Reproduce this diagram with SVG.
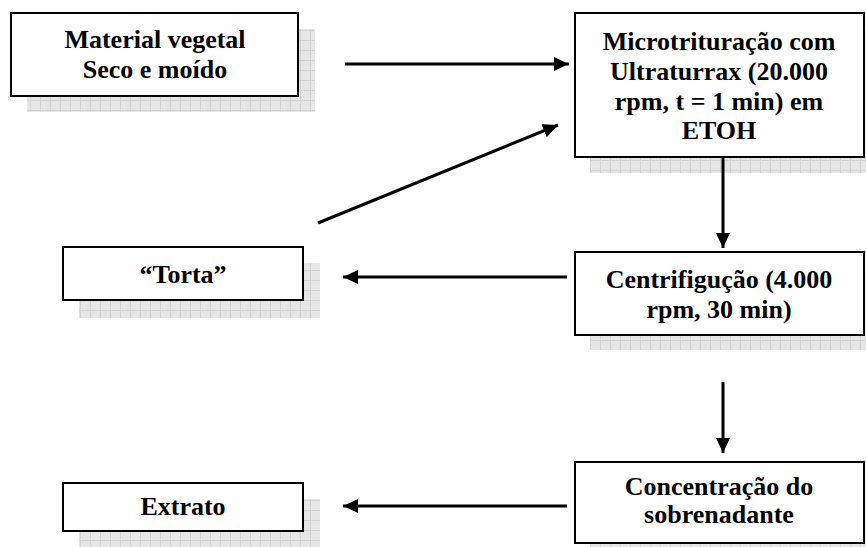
<svg xmlns="http://www.w3.org/2000/svg" width="866" height="547" viewBox="0 0 866 547">
  <style>
    .box { fill: #ffffff; stroke: #000000; stroke-width: 2; }
    .shadow { fill: url(#grid); }
    .label { font-weight: bold; font-size: 26px; fill: #000000; text-anchor: middle; }
    .flow { stroke: #000000; stroke-width: 3; fill: none; marker-end: url(#head); }
  </style>
  <defs>
    <pattern id="grid" patternUnits="userSpaceOnUse" width="10" height="10">
      <rect width="10" height="10" fill="#e6e6e6"/>
      <path d="M0,0.5 H10 M0.5,0 V10" stroke="#d2d2d2" stroke-width="1"/>
    </pattern>
    <marker id="head" markerUnits="userSpaceOnUse" markerWidth="16" markerHeight="14" refX="15" refY="7" orient="auto">
      <path d="M0,0 L15,7 L0,14 Z" fill="#000000"/>
    </marker>
  </defs>

  <g id="material" font-family="'Liberation Serif', 'Times New Roman', Times, serif">
    <rect class="shadow" x="27" y="29" width="288" height="83"/>
    <rect class="box" x="11" y="13" width="287" height="83"/>
    <text class="label" x="155" y="48">Material vegetal</text>
    <text class="label" x="155" y="78">Seco e moído</text>
  </g>

  <g id="microtrituracao" font-family="'Liberation Serif', 'Times New Roman', Times, serif">
    <rect class="shadow" x="590" y="29" width="276" height="144"/>
    <rect class="box" x="575" y="13" width="289" height="144"/>
    <text class="label" x="719" y="50">Microtrituração com</text>
    <text class="label" x="719" y="80">Ultraturrax (20.000</text>
    <text class="label" x="719" y="110">rpm, t = 1 min) em</text>
    <text class="label" x="719" y="139">ETOH</text>
  </g>

  <g id="torta" font-family="'Liberation Serif', 'Times New Roman', Times, serif">
    <rect class="shadow" x="79" y="263" width="241" height="55"/>
    <rect class="box" x="63" y="247" width="240" height="53"/>
    <text class="label" x="183" y="283">“Torta”</text>
  </g>

  <g id="centrifugacao" font-family="'Liberation Serif', 'Times New Roman', Times, serif">
    <rect class="shadow" x="590" y="268" width="276" height="82"/>
    <rect class="box" x="575" y="252" width="289" height="83"/>
    <text class="label" x="719" y="288">Centrifigução (4.000</text>
    <text class="label" x="719" y="318">rpm, 30 min)</text>
  </g>

  <g id="extrato" font-family="'Liberation Serif', 'Times New Roman', Times, serif">
    <rect class="shadow" x="79" y="499" width="241" height="48"/>
    <rect class="box" x="63" y="483" width="240" height="48"/>
    <text class="label" x="183" y="515">Extrato</text>
  </g>

  <g id="concentracao" font-family="'Liberation Serif', 'Times New Roman', Times, serif">
    <rect class="shadow" x="590" y="478" width="276" height="69"/>
    <rect class="box" x="575" y="462" width="289" height="81"/>
    <text class="label" x="719" y="495">Concentração do</text>
    <text class="label" x="719" y="523">sobrenadante</text>
  </g>

  <g id="connectors">
    <line class="flow" x1="345" y1="64" x2="569" y2="64"/>
    <line class="flow" x1="318" y1="223" x2="558" y2="125"/>
    <line class="flow" x1="723" y1="157" x2="723" y2="248"/>
    <line class="flow" x1="567" y1="277" x2="343" y2="277"/>
    <line class="flow" x1="723" y1="382" x2="723" y2="453"/>
    <line class="flow" x1="567" y1="506" x2="343" y2="506"/>
  </g>
</svg>
